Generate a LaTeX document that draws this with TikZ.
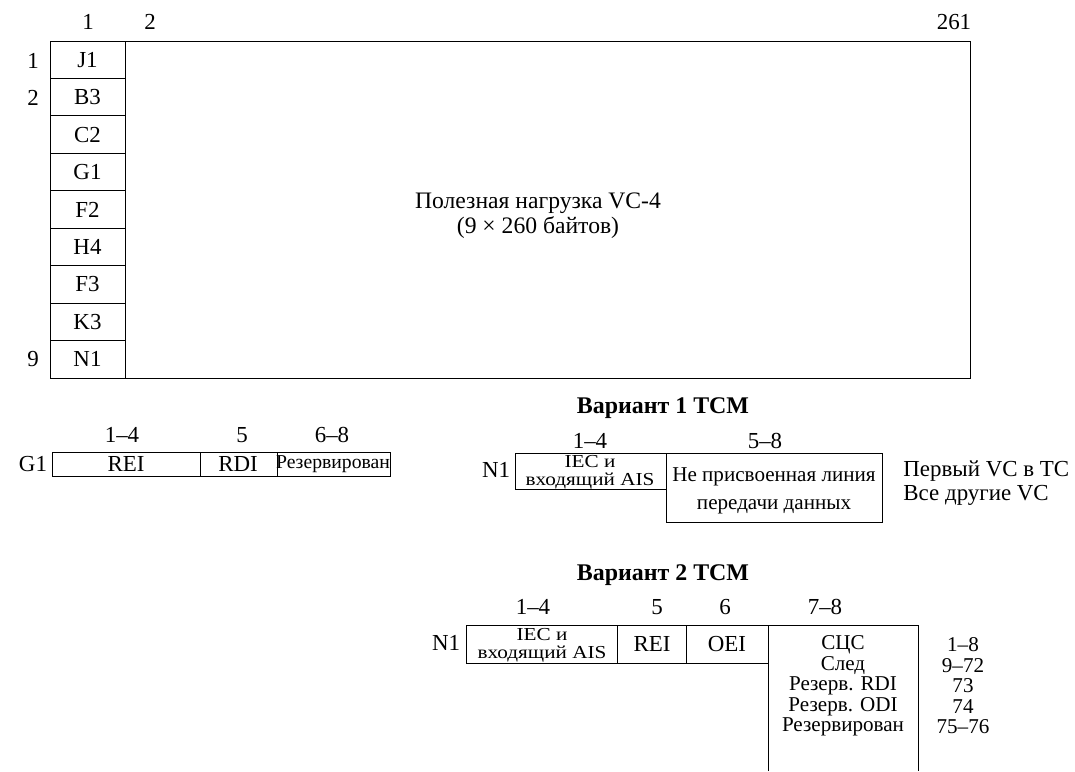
\documentclass[tikz,border=0pt]{standalone}
\usepackage{fontspec}
\setmainfont{Liberation Serif}
\usepackage{tikz}

\newcommand{\txtbig}{\fontsize{16.3}{19}\selectfont}
\newcommand{\txtsmall}{\fontsize{14}{14}\selectfont}
\newcommand{\txtlist}{\fontsize{15}{14.6}\selectfont}
\tikzset{iec/.style={anchor=base,xscale=1.16,font=\fontsize{13}{13}\selectfont}}

\begin{document}
\begin{tikzpicture}[x=0.025cm,y=-0.025cm,line width=0.6pt,
    every node/.style={font=\txtbig,inner sep=0pt}]
  \useasboundingbox (0,0) rectangle (1075,771);
  % frame VC-4
  \draw (50,41) rectangle (970,378);
  \foreach \lbl [count=\i from 0] in {J1,B3,C2,G1,F2,H4,F3,K3,N1} {
    \draw (50,{41+37.44*\i}) rectangle (125,{41+37.44*(\i+1)});
    \node (oh\i) at (87.5,{41+37.44*(\i+0.5)}) {\lbl};
  }
  \node (col1) at (88,22) {1};
  \node (col2) at (150,22) {2};
  \node (col261) at (954,22) {261};
  \node (row1) at (33,61) {1};
  \node (row2) at (33,98) {2};
  \node (row9) at (33,359) {9};
  \node[align=center,font=\fontsize{16.8}{17.8}\selectfont] (payload) at (538,216)
    {Полезная нагрузка VC-4\\(9 × 260 байтов)};
  % G1
  \draw (52,452) rectangle (200,476);
  \draw (200,452) rectangle (277,476);
  \draw (277,452) rectangle (390,476);
  \node (g1) at (33,464) {G1};
  \node (g1a) at (122,435) {1–4};
  \node (g1b) at (242,435) {5};
  \node (g1c) at (332,435) {6–8};
  \node (rei) at (126,464) {REI};
  \node (rdi) at (238,464) {RDI};
  \node[font=\txtsmall] (res) at (333,464) {Резервирован};
  % variant 1
  \node[font=\fontsize{17}{19}\selectfont\bfseries] (var1) at (663,408) {Вариант 1 TCM};
  \node (v1a) at (590,441) {1–4};
  \node (v1b) at (765,441) {5–8};
  \node (v1n) at (496,470) {N1};
  \draw (515,453) rectangle (666,489);
  \draw (666,453) rectangle (882,522);
  \node[iec] (iec1a) at (590,467) {IEC и};
  \node[iec] (iec1b) at (590,485) {входящий AIS};
  \node[align=center,font=\fontsize{15}{20}\selectfont] (dcc) at (774,491)
    {Не присвоенная линия\\передачи данных};
  \node[anchor=west,font=\fontsize{16.3}{18}\selectfont] (first) at (903,471) {Первый VC в TC};
  \node[anchor=west,font=\fontsize{16.3}{18}\selectfont] (other) at (903,495) {Все другие VC};
  % variant 2
  \node[font=\fontsize{17}{19}\selectfont\bfseries] (var2) at (663,575) {Вариант 2 TCM};
  \node (v2a) at (533,607) {1–4};
  \node (v2b) at (657,607) {5};
  \node (v2c) at (725,607) {6};
  \node (v2d) at (825,607) {7–8};
  \node (v2n) at (446,643) {N1};
  \draw (466,625) rectangle (617,663);
  \draw (617,625) rectangle (686,663);
  \draw (686,625) rectangle (768,663);
  \draw (768,771) -- (768,625) -- (918,625) -- (918,771);
  \node[iec] (iec2a) at (542,640) {IEC и};
  \node[iec] (iec2b) at (542,658) {входящий AIS};
  \node (rei2) at (652,644) {REI};
  \node (oei) at (727,644) {OEI};
  \node[align=center,font=\txtlist] (bits) at (843,686)
    {СЦС\\След\\Резерв. RDI\\Резерв. ODI\\Резервирован};
  \node[align=center,font=\txtlist] (nums) at (963,686)
    {1–8\\9–72\\73\\74\\75–76};
\end{tikzpicture}
\end{document}
